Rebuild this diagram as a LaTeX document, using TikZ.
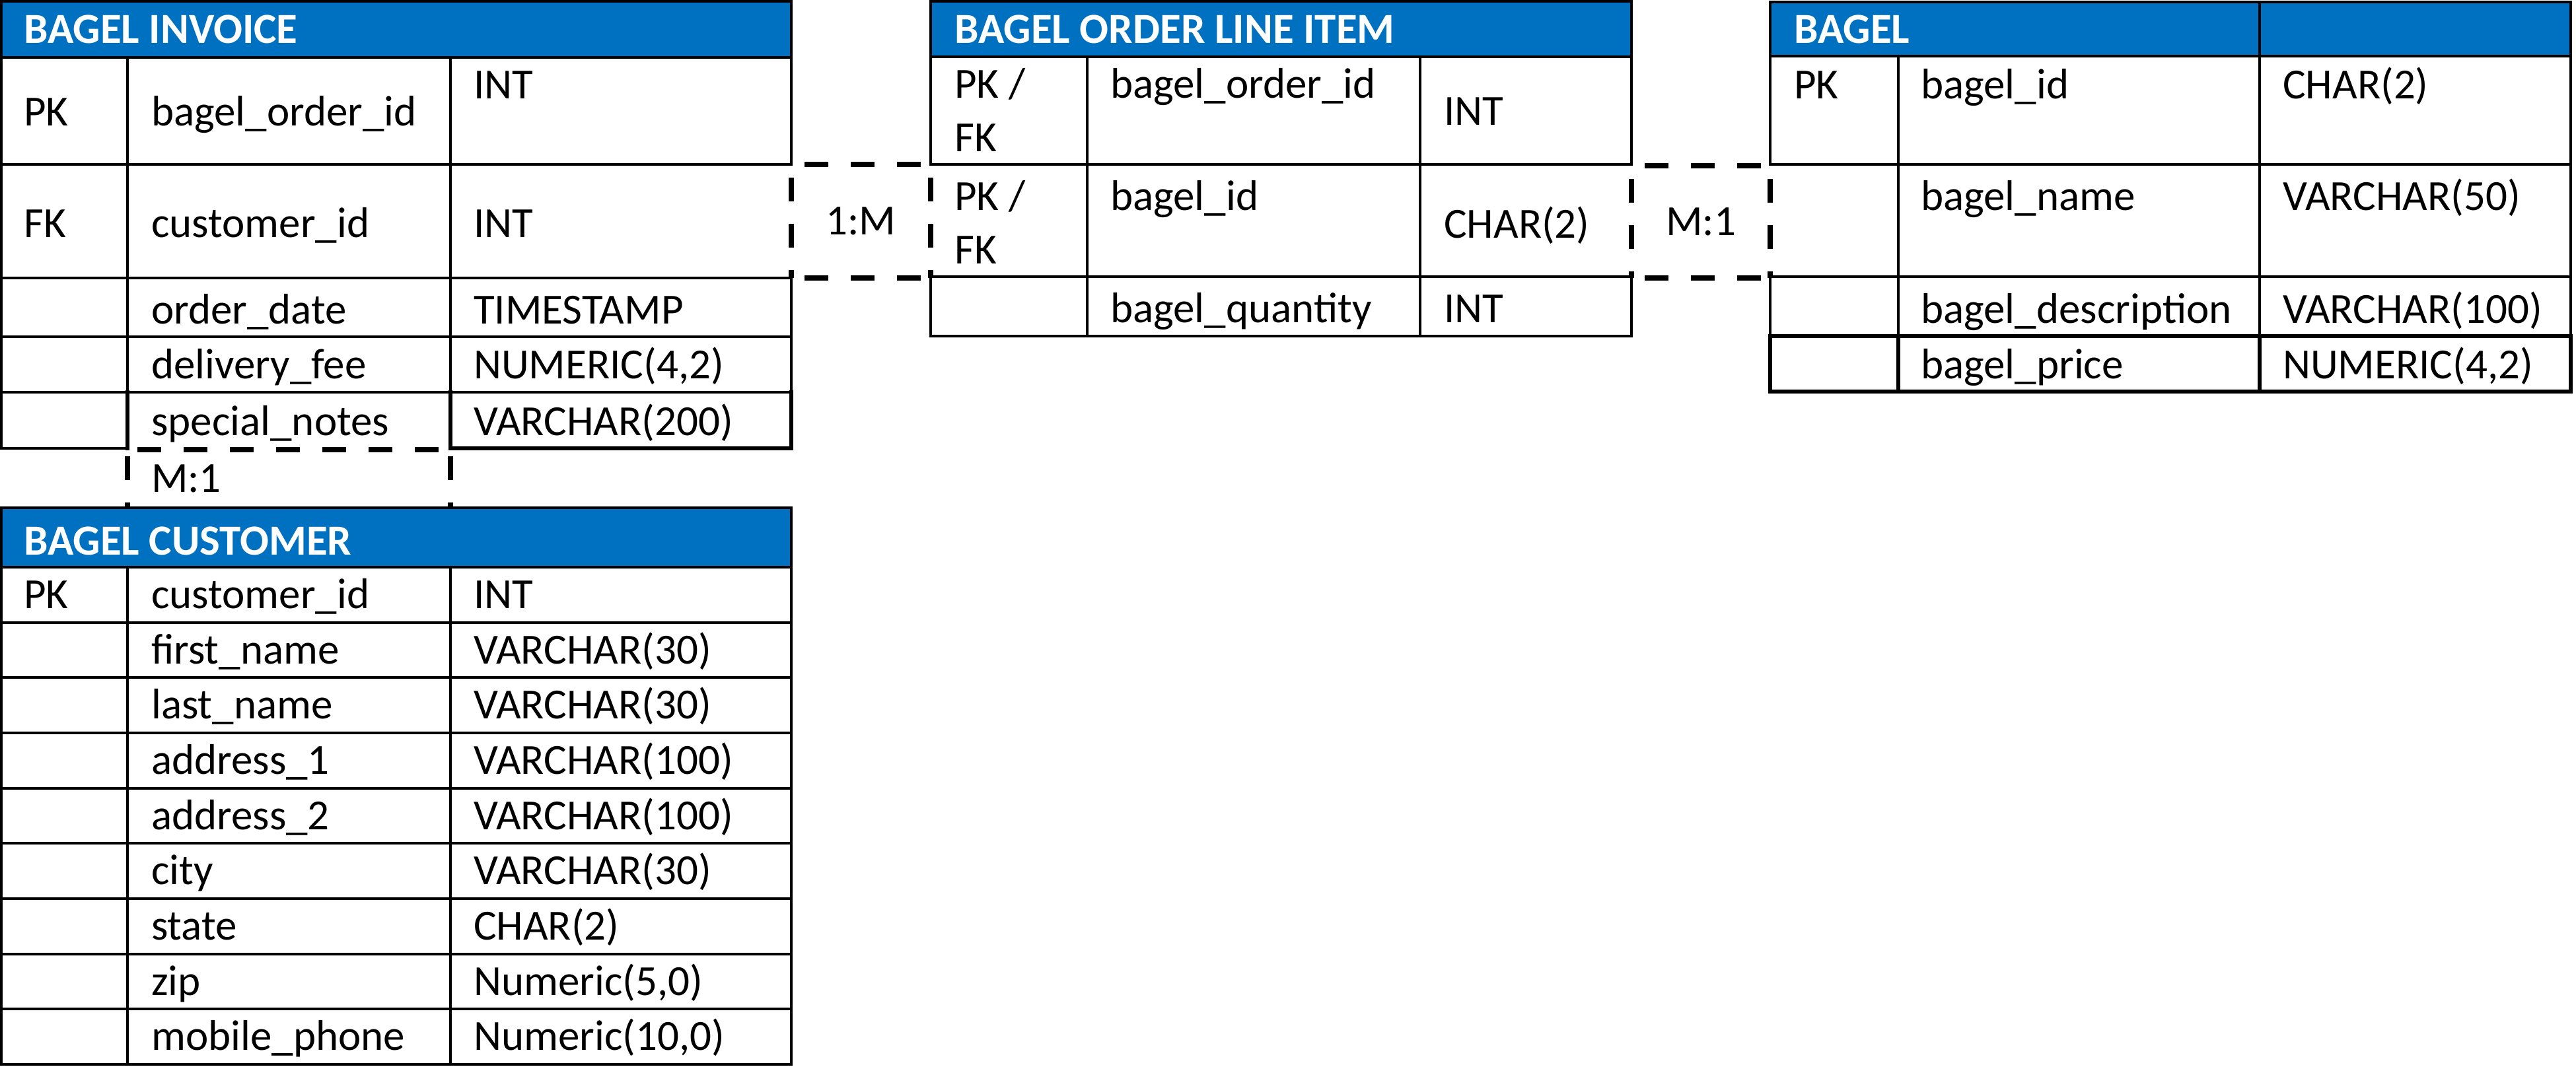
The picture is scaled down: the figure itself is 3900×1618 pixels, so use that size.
\documentclass[tikz,border=0pt]{standalone}
\usepackage{fontspec}
\setmainfont{Carlito}
\definecolor{hdrblue}{RGB}{0,112,192}
\newcommand\erdtxt{\fontsize{65pt}{78pt}\selectfont}
\newcommand\erdhdr{\fontsize{65pt}{78pt}\selectfont\bfseries}
\begin{document}
\begin{tikzpicture}[x=1pt,y=-1pt,
  txt/.style={anchor=base west,inner sep=0pt,font=\erdtxt},
  hd/.style={anchor=base west,inner sep=0pt,font=\erdhdr,text=white},
  rule/.style={line width=3.5pt,line cap=rect},
  heavy/.style={line width=6.5pt,line cap=rect},
  hdrbox/.style={fill=hdrblue,draw=black,line width=3.5pt},
  reldash/.style={line width=7.5pt,dash pattern=on 36pt off 34pt,dash phase=50pt},
  rel/.style={inner sep=0pt,font=\erdtxt}]
\useasboundingbox (0,0) rectangle (3900,1618);
\fill[white] (0,0) rectangle (3900,1618);

% ---------- BAGEL INVOICE ----------
\draw[hdrbox] (2,2) rectangle (1198,87);
\draw[rule] (2,249) -- (1198,249);
\draw[rule] (2,421) -- (1198,421);
\draw[rule] (2,510) -- (1198,510);
\draw[rule] (2,594) -- (1198,594);
\draw[rule] (2,679) -- (193,679);
\draw[rule] (2,87) -- (2,679);
\draw[rule] (193,87) -- (193,594);
\draw[rule] (682,87) -- (682,594);
\draw[rule] (1198,87) -- (1198,249);
\draw[rule] (1198,421) -- (1198,594);
\draw[heavy] (193,594) -- (193,679);
\draw[heavy] (682,594) -- (682,679) -- (1198,679) -- (1198,594);
\node[hd] (inv) at (36,65) {BAGEL INVOICE};
\node[txt] (i1k) at (36,190) {PK};
\node[txt] (i1n) at (229,190) {bagel\_order\_id};
\node[txt] (i1t) at (717,149) {INT};
\node[txt] (i2k) at (36,359) {FK};
\node[txt] (i2n) at (229,359) {customer\_id};
\node[txt] (i2t) at (717,359) {INT};
\node[txt] (i3n) at (229,490) {order\_date};
\node[txt] (i3t) at (717,490) {TIMESTAMP};
\node[txt] (i4n) at (229,573) {delivery\_fee};
\node[txt] (i4t) at (717,573) {NUMERIC(4,2)};
\node[txt] (i5n) at (229,659) {special\_notes};
\node[txt] (i5t) at (717,659) {VARCHAR(200)};

% ---------- BAGEL ORDER LINE ITEM ----------
\draw[hdrbox] (1409,2) rectangle (2470,86);
\draw[rule] (1409,249) -- (2470,249);
\draw[rule] (1409,419) -- (2470,419);
\draw[rule] (1409,509) -- (2470,509);
\draw[rule] (1409,86) -- (1409,249);
\draw[rule] (1409,419) -- (1409,509);
\draw[rule] (2470,86) -- (2470,249);
\draw[rule] (2470,419) -- (2470,509);
\draw[rule] (1646,86) -- (1646,509);
\draw[rule] (2150,86) -- (2150,509);
\node[hd] (oli) at (1445,65) {BAGEL ORDER LINE ITEM};
\node[txt] (o1k) at (1445,148) {PK /};
\node[txt] (o1f) at (1445,229) {FK};
\node[txt] (o1n) at (1681,148) {bagel\_order\_id};
\node[txt] (o1t) at (2186,189) {INT};
\node[txt] (o2k) at (1445,318) {PK /};
\node[txt] (o2f) at (1445,399) {FK};
\node[txt] (o2n) at (1681,318) {bagel\_id};
\node[txt] (o2t) at (2186,360) {CHAR(2)};
\node[txt] (o3n) at (1681,488) {bagel\_quantity};
\node[txt] (o3t) at (2186,488) {INT};

% ---------- BAGEL ----------
\draw[hdrbox] (2680,3) rectangle (3892,85);
\draw[rule] (3421,3) -- (3421,85);
\draw[rule] (2680,249) -- (3892,249);
\draw[rule] (2680,419) -- (3892,419);
\draw[rule] (2680,85) -- (2680,249);
\draw[rule] (2680,419) -- (2680,509);
\draw[rule] (3892,85) -- (3892,509);
\draw[rule] (2874,85) -- (2874,509);
\draw[rule] (3421,85) -- (3421,509);
\draw[heavy] (2680,509) rectangle (3892,593);
\draw[heavy] (2874,509) -- (2874,593);
\draw[heavy] (3421,509) -- (3421,593);
\node[hd] (bag) at (2716,65) {BAGEL};
\node[txt] (b1k) at (2716,149) {PK};
\node[txt] (b1n) at (2908,149) {bagel\_id};
\node[txt] (b1t) at (3456,149) {CHAR(2)};
\node[txt] (b2n) at (2908,318) {bagel\_name};
\node[txt] (b2t) at (3456,318) {VARCHAR(50)};
\node[txt] (b3n) at (2908,489) {bagel\_description};
\node[txt] (b3t) at (3456,489) {VARCHAR(100)};
\node[txt] (b4n) at (2908,573) {bagel\_price};
\node[txt] (b4t) at (3456,573) {NUMERIC(4,2)};

% ---------- relationship cells ----------
\node[rel,minimum width=211pt,minimum height=172pt] (r1) at (1303.5,335) {1:M};
\node[rel,minimum width=210pt,minimum height=170pt] (r2) at (2575,336) {M:1};
\node[rel,minimum width=489pt,minimum height=88pt,text width=417pt,align=left] (r3) at (437.5,725) {M:1};
\draw[reldash] (r1.north west) -- (r1.north east);
\draw[reldash] (r1.north east) -- (r1.south east);
\draw[reldash] (r1.south west) -- (r1.south east);
\draw[reldash] (r1.north west) -- (r1.south west);
\draw[reldash] (r2.north west) -- (r2.north east);
\draw[reldash] (r2.north east) -- (r2.south east);
\draw[reldash] (r2.south west) -- (r2.south east);
\draw[reldash] (r2.north west) -- (r2.south west);
\draw[reldash,dash phase=55pt] (r3.north west) -- (r3.north east);
\draw[reldash,dash phase=60pt] (r3.north west) -- (r3.south west);
\draw[reldash,dash phase=60pt] (r3.north east) -- (r3.south east);

% ---------- BAGEL CUSTOMER ----------
\draw[hdrbox] (2,769) rectangle (1198,859);
\draw[rule] (2,859) rectangle (1198,1612);
\foreach \yy in {943,1026,1110,1194,1277,1361,1445,1528}
  \draw[rule] (2,\yy) -- (1198,\yy);
\draw[rule] (193,859) -- (193,1612);
\draw[rule] (682,859) -- (682,1612);
\node[hd] (cus) at (36,840) {BAGEL CUSTOMER};
\node[txt] (c1k) at (36,921) {PK};
\node[txt] (c1n) at (229,921) {customer\_id};
\node[txt] (c1t) at (717,921) {INT};
\node[txt] (c2n) at (229,1005) {first\_name};
\node[txt] (c2t) at (717,1005) {VARCHAR(30)};
\node[txt] (c3n) at (229,1088) {last\_name};
\node[txt] (c3t) at (717,1088) {VARCHAR(30)};
\node[txt] (c4n) at (229,1172) {address\_1};
\node[txt] (c4t) at (717,1172) {VARCHAR(100)};
\node[txt] (c5n) at (229,1256) {address\_2};
\node[txt] (c5t) at (717,1256) {VARCHAR(100)};
\node[txt] (c6n) at (229,1339) {city};
\node[txt] (c6t) at (717,1339) {VARCHAR(30)};
\node[txt] (c7n) at (229,1423) {state};
\node[txt] (c7t) at (717,1423) {CHAR(2)};
\node[txt] (c8n) at (229,1507) {zip};
\node[txt] (c8t) at (717,1507) {Numeric(5,0)};
\node[txt] (c9n) at (229,1590) {mobile\_phone};
\node[txt] (c9t) at (717,1590) {Numeric(10,0)};
\end{tikzpicture}
\end{document}
